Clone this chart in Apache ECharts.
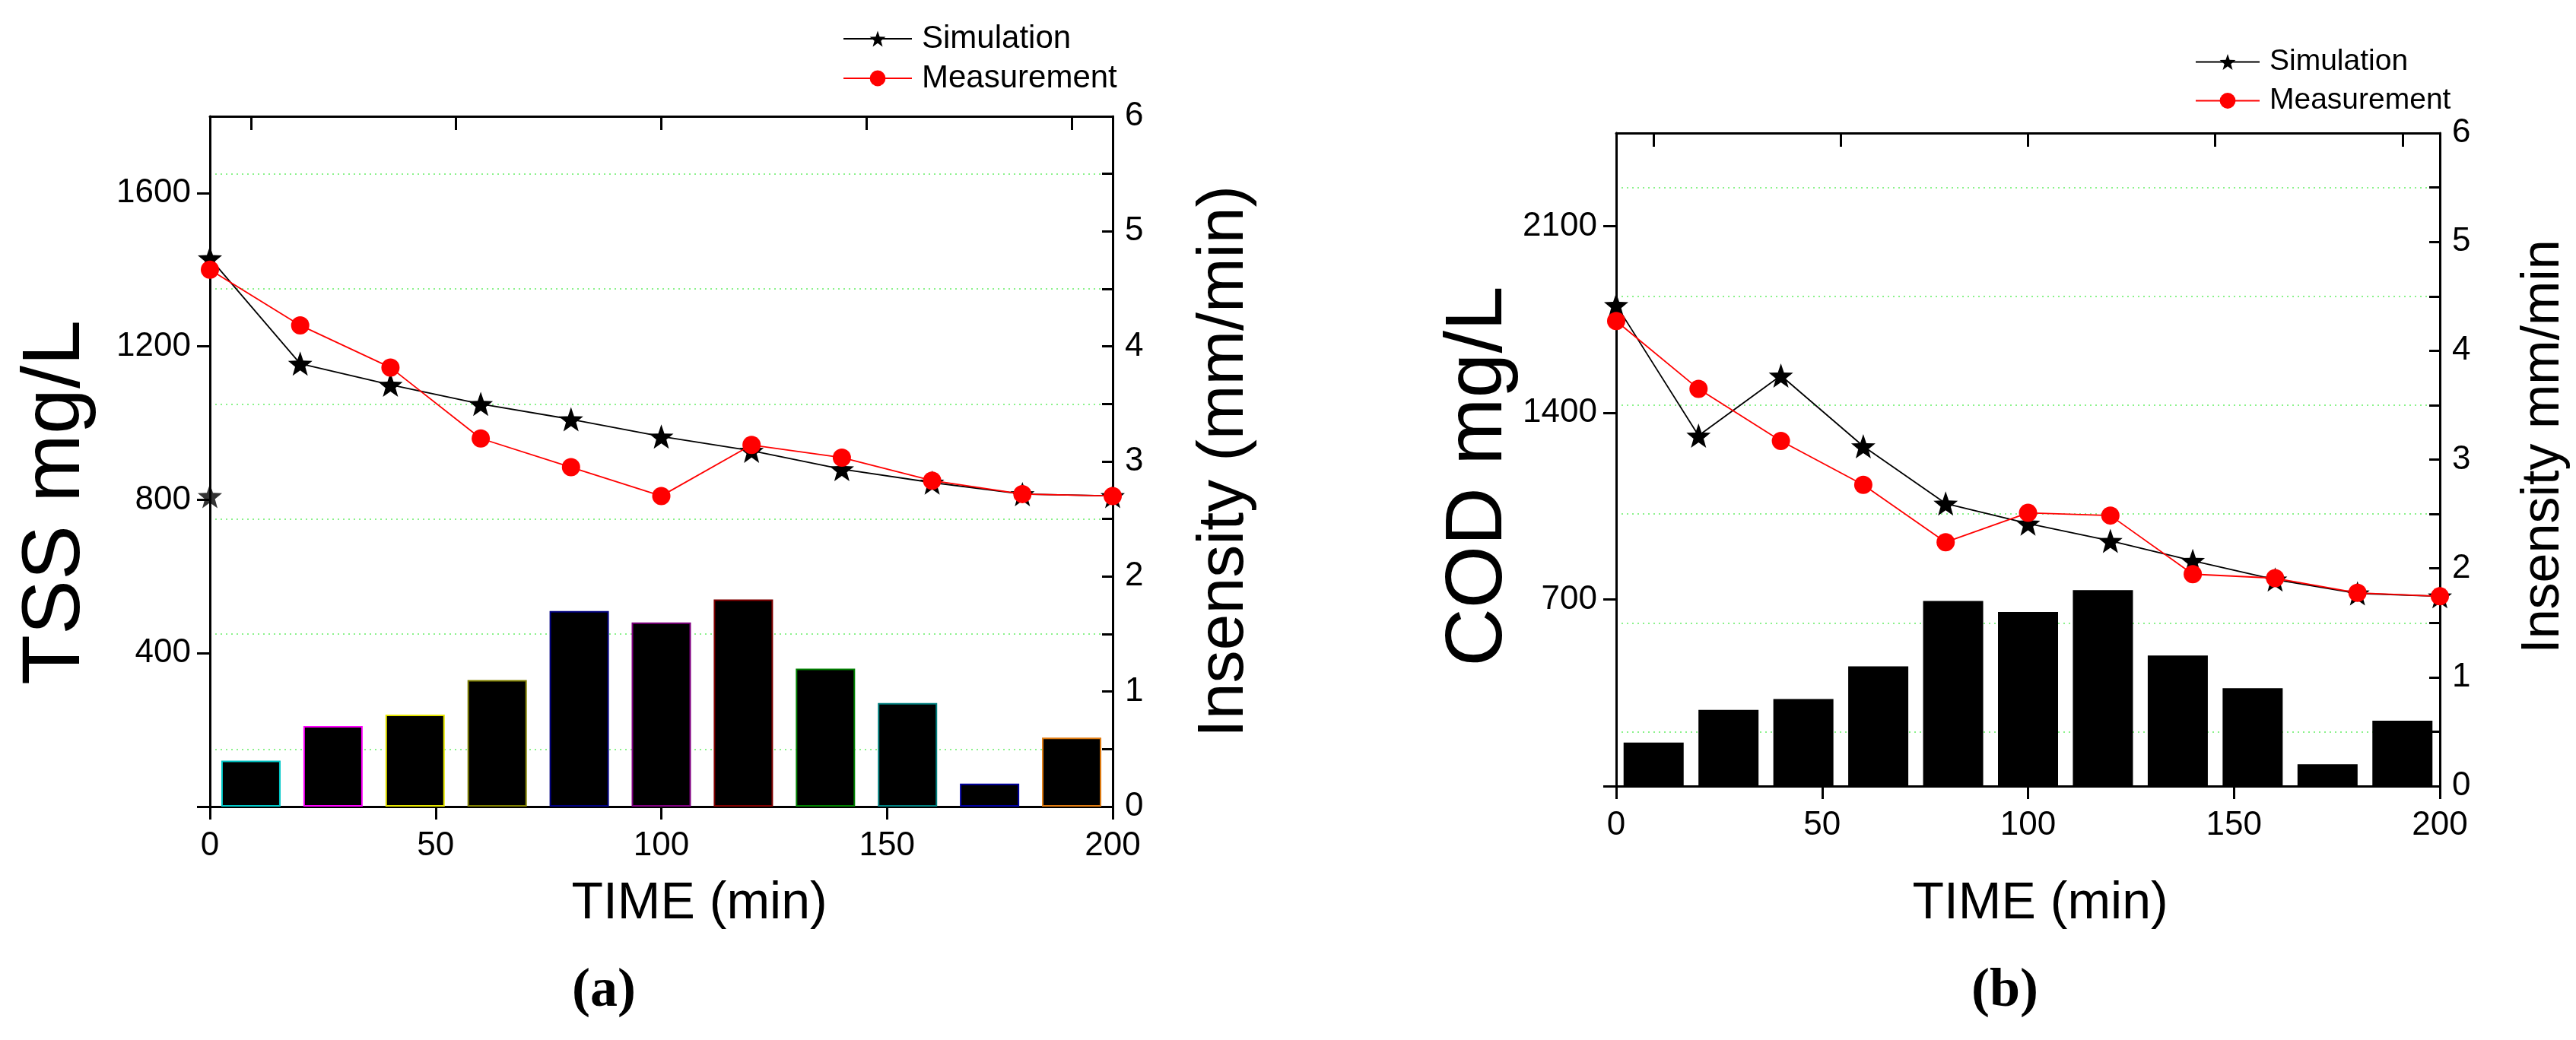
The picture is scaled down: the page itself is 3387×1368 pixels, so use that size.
<!DOCTYPE html>
<html>
<head>
<meta charset="utf-8">
<title>TSS / COD</title>
<script src="https://cdn.jsdelivr.net/npm/echarts@6/dist/echarts.min.js"></script>
<style>
  html, body { margin: 0; padding: 0; background: #fff; }
  #chart { width: 3387px; height: 1368px; }
</style>
</head>
<body>
<div id="chart"></div>
<script>
// sampling times (min)
const timeMin = [0, 20, 40, 60, 80, 100, 120, 140, 160, 180, 200];
// rain intensity per interval (mm/min), same storm for both panels
const rainSlot = [1, 2, 3, 4, 5, 6, 7, 8, 9, 10, 11];
const rainIntensity = [0.4, 0.7, 0.8, 1.1, 1.7, 1.6, 1.8, 1.2, 0.9, 0.2, 0.6];

// (a) TSS mg/L
const tssSim = [1430, 1155, 1100, 1050, 1010, 965, 928, 880, 845, 815, 810];
const tssMeas = [1400, 1255, 1145, 960, 885, 810, 943, 910, 850, 815, 810];
const tssSimStray = [[0, 810]];

// (b) COD mg/L
const codSim = [1805, 1315, 1540, 1275, 1060, 985, 920, 845, 775, 723, 712];
const codMeas = [1745, 1490, 1295, 1130, 915, 1025, 1015, 795, 780, 725, 712];

// tick labels
const timeTicks = [0, 50, 100, 150, 200];
const tssTicks = [400, 800, 1200, 1600];
const codTicks = [700, 1400, 2100];
const rainTicks = [0, 1, 2, 3, 4, 5, 6];
const topTicks = [1, 3.5, 6, 8.5, 11];

// bar edge colours in panel (a) (Origin colour cycle)
const barEdgeColors = ['#00c8c8', '#ff00ff', '#e6e600', '#808000', '#000080', '#800080',
  '#800000', '#008000', '#008080', '#0000a0', '#e07b10'];

const STAR = 'path://M50,0 L62,34 L98,35 L70,57 L80,91 L50,71 L20,91 L30,57 L2,35 L38,34 Z';
const AX = { color: '#000', width: 3 };
const LABEL_FONT = 'Liberation Sans';
const TICK_FONT = '"Liberation Sans Narrow", "Liberation Sans"';
const plain = v => String(v);

function pairs(xs, ys) {
  return xs.map((x, i) => [x, ys[i]]);
}

function panel(k, cfg) {
  const xi = k * 2, yi = k * 2;
  const xAxis = [
    {
      gridIndex: k, type: 'value', position: 'bottom', min: 0, max: 200, interval: 50,
      axisLine: { onZero: false, lineStyle: AX }, splitLine: { show: false },
      axisTick: { inside: false, length: 17, lineStyle: { width: 3, color: '#000' } },
      axisLabel: { customValues: timeTicks, formatter: plain, margin: 30, fontSize: 44, color: '#000', fontFamily: TICK_FONT },
      name: 'TIME (min)', nameLocation: 'middle', nameGap: cfg.xNameGap,
      nameTextStyle: { fontSize: 68, color: '#000', fontFamily: LABEL_FONT, padding: [0, 0, 0, cfg.xNameShift] }
    },
    {
      gridIndex: k, type: 'value', position: 'top', min: 0.5, max: 11.5,
      axisLine: { onZero: false, lineStyle: AX }, splitLine: { show: false },
      axisTick: { inside: true, length: 18, customValues: topTicks, lineStyle: { width: 3, color: '#000' } },
      axisLabel: { show: false }
    }
  ];
  const yAxis = [
    {
      gridIndex: k, type: 'value', position: 'left', min: 0, max: cfg.yMax, interval: cfg.yStep,
      axisLine: { show: true, onZero: false, lineStyle: AX }, splitLine: { show: false },
      axisTick: { show: true, inside: false, length: 17, customValues: [0].concat(cfg.yTicks), lineStyle: { width: 3, color: '#000' } },
      axisLabel: { customValues: cfg.yTicks, formatter: plain, margin: 25, fontSize: 44, color: '#000', fontFamily: TICK_FONT },
      name: cfg.yName, nameLocation: 'middle', nameGap: cfg.yNameGap, nameRotate: 90,
      nameTextStyle: { fontSize: cfg.yNameSize, color: '#000', fontFamily: LABEL_FONT, padding: cfg.yNamePad }
    },
    {
      gridIndex: k, type: 'value', position: 'right', min: 0, max: 6, interval: 1,
      axisLine: { show: true, onZero: false, lineStyle: AX },
      axisTick: { show: true, inside: true, length: 14, lineStyle: { width: 3, color: '#000' } },
      minorTick: { show: true, splitNumber: 2, length: 14, lineStyle: { width: 3, color: '#000' } },
      splitLine: { show: false },
      minorSplitLine: { show: true, lineStyle: { color: '#66ee66', width: 1.5, type: [2, 5] } },
      axisLabel: { customValues: rainTicks, formatter: plain, margin: 16, fontSize: 44, color: '#000', fontFamily: TICK_FONT },
      name: cfg.rName, nameLocation: 'middle', nameGap: cfg.rNameGap, nameRotate: 90,
      nameTextStyle: { fontSize: cfg.rNameSize, color: '#000', fontFamily: LABEL_FONT, padding: cfg.rNamePad }
    }
  ];
  const series = [
    {
      name: 'Rain ' + k, type: 'bar', xAxisIndex: xi + 1, yAxisIndex: yi + 1, barWidth: cfg.barWidth, z: 1,
      data: rainSlot.map((s, i) => ({
        value: [s, rainIntensity[i]],
        itemStyle: { color: '#000', borderColor: cfg.edges ? barEdgeColors[i] : '#000', borderWidth: 2 }
      }))
    },
    {
      name: 'Simulation', type: 'line', xAxisIndex: xi, yAxisIndex: yi, z: 4,
      data: pairs(timeMin, cfg.sim), symbol: STAR, symbolSize: 32,
      itemStyle: { color: '#000' }, lineStyle: { color: '#000', width: 1.8 }
    },
    {
      name: 'Measurement', type: 'line', xAxisIndex: xi, yAxisIndex: yi, z: 5,
      data: pairs(timeMin, cfg.meas), symbol: 'circle', symbolSize: 24,
      itemStyle: { color: '#ff0000' }, lineStyle: { color: '#ff0000', width: 1.8 }
    }
  ];
  if (cfg.stray) {
    series.push({
      name: 'Simulation stray', type: 'scatter', xAxisIndex: xi, yAxisIndex: yi, z: 4,
      data: cfg.stray, symbol: STAR, symbolSize: 32, itemStyle: { color: '#000' }
    });
  }
  const legend = {
    orient: 'vertical', left: cfg.legendLeft, top: cfg.legendTop,
    data: ['Simulation', 'Measurement'], itemWidth: cfg.legendItemWidth, itemHeight: 26, itemGap: cfg.legendGap,
    textStyle: { fontSize: cfg.legendFont, color: '#000', fontFamily: LABEL_FONT, padding: [0, 0, 0, 8] }
  };
  return { grid: cfg.grid, xAxis, yAxis, series, legend };
}

const a = panel(0, {
  grid: { left: 276, right: 3387 - 1463, top: 153, bottom: 1368 - 1061 },
  yMax: 1800, yStep: 400, yTicks: tssTicks, yName: 'TSS mg/L', yNameGap: 148, yNameSize: 108, yNamePad: [0, 108, 0, 0],
  rName: 'Insensity (mm/min)', rNameGap: 104, rNameSize: 86, rNamePad: 0,
  xNameGap: 94, xNameShift: 100, barWidth: 78, edges: true,
  sim: tssSim, meas: tssMeas, stray: tssSimStray,
  legendLeft: 1103, legendTop: 25, legendGap: 10, legendItemWidth: 90, legendFont: 42
});
const b = panel(1, {
  grid: { left: 2125, right: 3387 - 3208, top: 175, bottom: 1368 - 1034 },
  yMax: 2450, yStep: 350, yTicks: codTicks, yName: 'COD mg/L', yNameGap: 126, yNameSize: 106, yNamePad: [0, 44, 0, 0],
  rName: 'Insensity mm/min', rNameGap: 102, rNameSize: 70, rNamePad: [0, 0, 0, 34],
  xNameGap: 121, xNameShift: 32, barWidth: 79, edges: false,
  sim: codSim, meas: codMeas, stray: null,
  legendLeft: 2881, legendTop: 57, legendGap: 12, legendItemWidth: 84, legendFont: 39
});

const chart = echarts.init(document.getElementById('chart'));
chart.setOption({
  animation: false,
  backgroundColor: '#fff',
  grid: [a.grid, b.grid],
  xAxis: a.xAxis.concat(b.xAxis),
  yAxis: a.yAxis.concat(b.yAxis),
  legend: [a.legend, b.legend],
  series: a.series.concat(b.series),
  graphic: [
    { type: 'text', left: 752, top: 1268, style: { text: '(a)', font: 'bold 72px "Liberation Serif"', fill: '#000' } },
    { type: 'text', left: 2592, top: 1268, style: { text: '(b)', font: 'bold 72px "Liberation Serif"', fill: '#000' } }
  ]
});
window.addEventListener('resize', function () {
  chart.resize();
});
</script>
</body>
</html>
